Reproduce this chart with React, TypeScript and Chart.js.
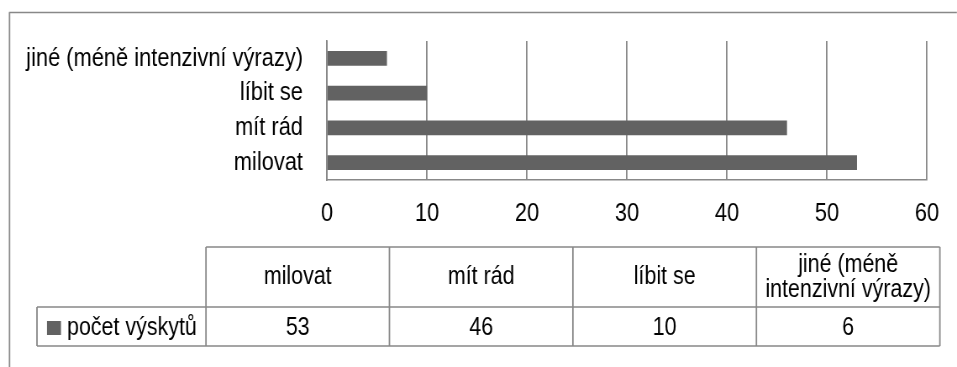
import React, { useEffect, useRef } from "react";
import { Chart, registerables } from "chart.js";

Chart.register(...registerables);

const categories = ["milovat", "mít rád", "líbit se", "jiné (méně intenzivní výrazy)"];
const seriesName = "počet výskytů";
const values = [53, 46, 10, 6];
const xMin = 0;
const xMax = 60;
const xStep = 10;

// the reference uses a condensed face: draw wider, show at 957px
const K = 1.19;
const W = 957;
const H = 367;
const FONT = "'Liberation Sans', Arial, sans-serif";
const FS = 26;
const BAR = "#626262";
const LINE = "#888888";

function wrap(ctx: CanvasRenderingContext2D, text: string, maxW: number): string[] {
  const words = text.split(" ");
  const lines: string[] = [];
  let cur = "";
  for (const w of words) {
    const t = cur ? cur + " " + w : w;
    if (ctx.measureText(t).width > maxW && cur) {
      lines.push(cur);
      cur = w;
    } else cur = t;
  }
  if (cur) lines.push(cur);
  return lines;
}

const tablePlugin = {
  id: "dataTable",
  afterDraw(chart: any) {
    const ctx: CanvasRenderingContext2D = chart.ctx;
    const labels: string[] = chart.data.labels;
    const data: number[] = chart.data.datasets[0].data;
    const name: string = chart.data.datasets[0].label;
    ctx.save();
    ctx.strokeStyle = LINE;

    // outer frame
    ctx.lineWidth = 1.5 * K;
    ctx.beginPath();
    ctx.moveTo(9.5 * K, H);
    ctx.lineTo(9.5 * K, 12.5);
    ctx.stroke();
    ctx.lineWidth = 1.5;
    ctx.beginPath();
    ctx.moveTo(9 * K, 12.5);
    ctx.lineTo(W * K, 12.5);
    ctx.stroke();

    const top = 247, mid = 307, bot = 346;
    const labelLeft = 37 * K, colLeft = 206 * K, colRight = 940 * K;
    const n = labels.length;
    const cw = (colRight - colLeft) / n;

    ctx.lineWidth = 1.5;
    ctx.beginPath();
    ctx.moveTo(colLeft, top);
    ctx.lineTo(colRight, top);
    ctx.moveTo(labelLeft, mid);
    ctx.lineTo(colRight, mid);
    ctx.moveTo(labelLeft, bot);
    ctx.lineTo(colRight, bot);
    ctx.stroke();

    ctx.lineWidth = 1.5 * K;
    ctx.beginPath();
    ctx.moveTo(labelLeft, mid);
    ctx.lineTo(labelLeft, bot);
    for (let i = 0; i <= n; i++) {
      const x = colLeft + i * cw;
      ctx.moveTo(x, top);
      ctx.lineTo(x, bot);
    }
    ctx.stroke();

    ctx.font = `${FS - 0.5}px ${FONT}`;
    ctx.fillStyle = "#000";
    ctx.textBaseline = "middle";
    ctx.textAlign = "center";
    for (let i = 0; i < n; i++) {
      const cx = colLeft + (i + 0.5) * cw;
      const lines = wrap(ctx, labels[i], cw - 10 * K);
      const lh = 25;
      const cy = (top + mid) / 2;
      lines.forEach((ln, k) => {
        ctx.fillText(ln, cx, cy + (k - (lines.length - 1) / 2) * lh);
      });
      ctx.fillText(String(data[i]), cx, (mid + bot) / 2 + 1);
    }
    // legend key
    ctx.fillStyle = BAR;
    ctx.fillRect(47 * K, 321, 14 * K, 14);
    ctx.fillStyle = "#000";
    ctx.textAlign = "left";
    ctx.fillText(name, 67 * K, (mid + bot) / 2 + 1);
    ctx.restore();
  },
};

export default function App() {
  const ref = useRef<HTMLCanvasElement>(null);
  useEffect(() => {
    if (!ref.current) return;
    const chart = new Chart(ref.current, {
      type: "bar",
      data: {
        labels: categories,
        datasets: [
          {
            label: seriesName,
            data: values,
            backgroundColor: BAR,
            categoryPercentage: 1,
            barPercentage: 0.42,
          },
        ],
      },
      options: {
        indexAxis: "y",
        responsive: false,
        animation: false,
        devicePixelRatio: 1,
        layout: { padding: { top: 41, right: 30 * K, left: 0, bottom: 0 } },
        plugins: { legend: { display: false }, tooltip: { enabled: false } },
        scales: {
          x: {
            min: xMin,
            max: xMax,
            ticks: { stepSize: xStep, color: "#000", font: { family: FONT, size: FS }, padding: 18, maxRotation: 0 },
            grid: { color: LINE, lineWidth: 1.5 * K, drawTicks: false },
            border: { display: true, color: LINE, width: 1.5 },
            afterFit: (s: any) => {
              s.height = 187;
              s.paddingLeft = 0;
              s.paddingRight = 0;
            },
          },
          y: {
            reverse: true,
            ticks: { color: "#000", font: { family: FONT, size: FS }, padding: 24 * K },
            grid: { display: false, drawTicks: false },
            border: { display: true, color: LINE, width: 1.5 * K },
            afterFit: (s: any) => {
              s.width = 327 * K;
              s.paddingTop = 0;
              s.paddingBottom = 0;
            },
          },
        },
      },
      plugins: [tablePlugin],
    });
    return () => chart.destroy();
  }, []);
  return (
    <div style={{ position: "absolute", left: 0, top: 0, width: W, height: H, background: "#fff", overflow: "hidden" }}>
      <canvas
        ref={ref}
        width={Math.round(W * K)}
        height={H}
        style={{ display: "block", width: W + "px", height: H + "px" }}
      />
    </div>
  );
}
